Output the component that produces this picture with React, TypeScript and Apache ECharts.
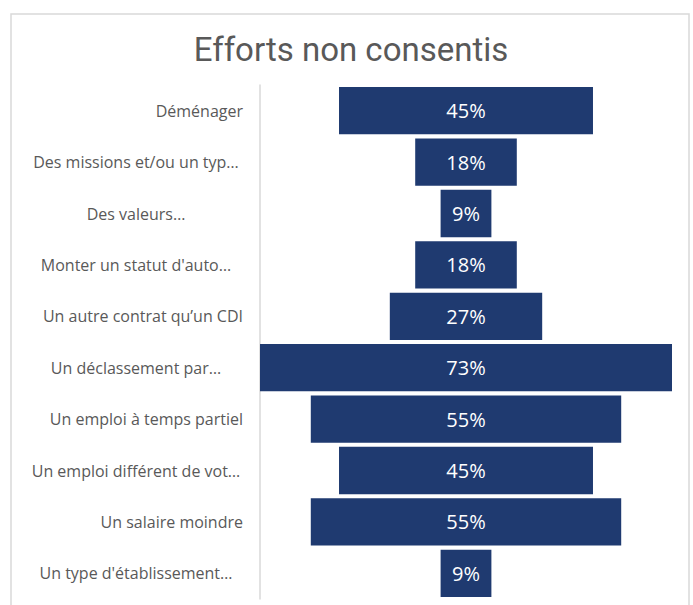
import React, { useEffect, useRef } from "react";
import * as echarts from "echarts";

const title = "Efforts non consentis";
const categories = [
  "Déménager",
  "Des missions et/ou un typ…",
  "Des valeurs…",
  "Monter un statut d'auto…",
  "Un autre contrat qu’un CDI",
  "Un déclassement par…",
  "Un emploi à temps partiel",
  "Un emploi différent de vot…",
  "Un salaire moindre",
  "Un type d'établissement…",
];
const values = [45, 18, 9, 18, 27, 73, 55, 45, 55, 9];

const labelFont = "Open Sans, Noto Sans, sans-serif";

export default function App() {
  const ref = useRef<HTMLDivElement>(null);
  useEffect(() => {
    document.body.style.margin = "0";
    const chart = echarts.init(ref.current!, null, { renderer: "svg" });
    const maxV = Math.max(...values);
    const offsets = values.map((v) => (maxV - v) / 2);
    chart.setOption({
      animation: false,
      backgroundColor: "#ffffff",
      title: {
        text: title,
        left: 346,
        top: 28,
        textAlign: "center",
        textStyle: {
          fontFamily: "Liberation Sans Narrow, Roboto, sans-serif",
          fontWeight: "normal",
          fontSize: 33,
          color: "#595959",
        },
      },
      graphic: [
        {
          type: "rect",
          shape: { x: 11, y: 14, width: 678, height: 610 },
          style: { fill: "none", stroke: "#d9d9d9", lineWidth: 1.5 },
          silent: true,
          z: 0,
        },
      ],
      grid: { left: 260, right: 21, top: 85, bottom: 6, containLabel: false },
      xAxis: {
        type: "value",
        min: 0,
        max: maxV,
        show: false,
      },
      yAxis: {
        type: "category",
        data: categories,
        inverse: true,
        axisLine: { show: true, lineStyle: { color: "#d9d9d9", width: 1.5 } },
        axisTick: { show: false },
        axisLabel: {
          color: "#595959",
          fontSize: 16,
          margin: 17,
          fontFamily: labelFont,
          formatter: (v: string) => (v.endsWith("…") ? `{c|${v}}` : `{r|${v}}`),
          rich: {
            c: {
              width: 214,
              align: "center",
              fontSize: 16,
              fontFamily: labelFont,
              color: "#595959",
            },
            r: {
              fontSize: 16,
              fontFamily: labelFont,
              color: "#595959",
            },
          },
        },
      },
      series: [
        {
          type: "bar",
          stack: "f",
          data: offsets,
          itemStyle: { color: "transparent" },
          silent: true,
          barCategoryGap: "8%",
        },
        {
          type: "bar",
          stack: "f",
          data: values,
          barCategoryGap: "8%",
          itemStyle: { color: "#1F3A70" },
          label: {
            show: true,
            position: "inside",
            formatter: "{c}%",
            color: "#ffffff",
            fontSize: 20,
            fontFamily: labelFont,
          },
        },
      ],
    });
    return () => chart.dispose();
  }, []);
  return <div ref={ref} style={{ width: 693, height: 605 }} />;
}
